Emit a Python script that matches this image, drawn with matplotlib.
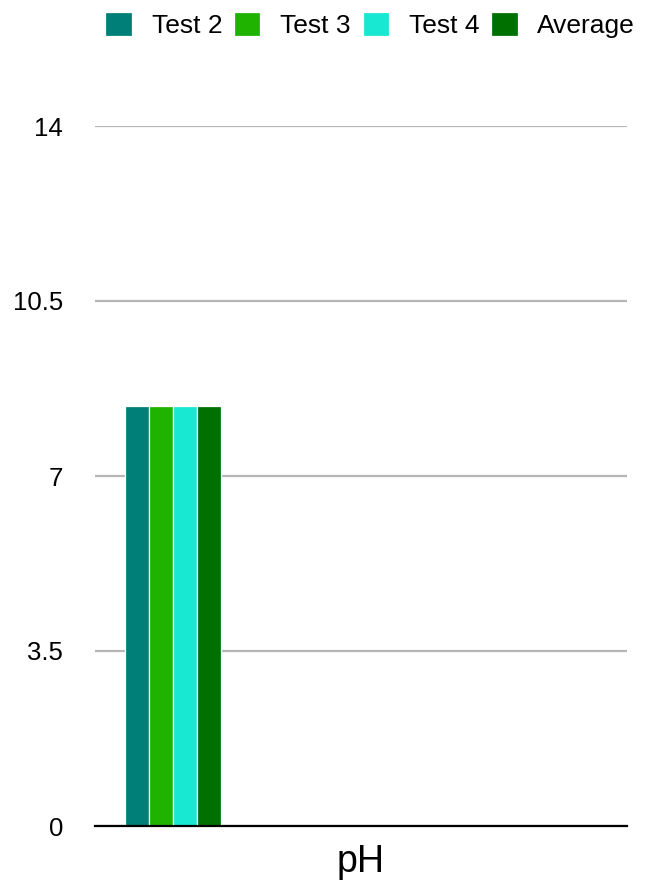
import matplotlib.pyplot as plt
import numpy as np

plt.rcParams['font.family'] = ['Liberation Sans', 'DejaVu Sans']

# pH readings per test
categories = ['pH']
series = ['Test 2', 'Test 3', 'Test 4', 'Average']
values = [8.4, 8.4, 8.4, 8.4]
colors = ['#007f78', '#1fb300', '#18e8d2', '#007000']
yticks = [0, 3.5, 7, 10.5, 14]
ytick_labels = ['0', '3.5', '7', '10.5', '14']

fig = plt.figure(figsize=(6.49, 8.84), dpi=100)
ax = fig.add_axes([95 / 649, 58 / 884, 532 / 649, 700 / 884])

# group of bars sits at the left of the category band
bar_w = 0.0452
start = 0.0564
for i, (name, v, c) in enumerate(zip(series, values, colors)):
    ax.bar(start + i * bar_w, v, width=bar_w, align='edge', color=c,
           edgecolor='white', linewidth=0.9, label=name, zorder=3)

ax.set_xlim(0, 1)
ax.set_ylim(0, 14)
ax.set_yticks(yticks)
ax.set_yticklabels(ytick_labels, fontsize=18.5)
ax.set_xticks([0.5])
ax.set_xticklabels(categories, fontsize=27)
ax.tick_params(axis='y', length=0, pad=23)
ax.tick_params(axis='x', length=0, pad=13)

ax.grid(axis='y', color='#b6b6b6', linewidth=1.6, zorder=0)
for s in ['top', 'right', 'left']:
    ax.spines[s].set_visible(False)
ax.spines['bottom'].set_linewidth(1.6)
ax.spines['bottom'].set_zorder(4)

fig.legend(loc='upper right', bbox_to_anchor=(647 / 649, 1.0), ncol=4,
           frameon=False, fontsize=19, handlelength=1.0, handleheight=1.05,
           handletextpad=0.75, columnspacing=0.45, borderaxespad=0.05)

fig.savefig('out.png', dpi=100)
